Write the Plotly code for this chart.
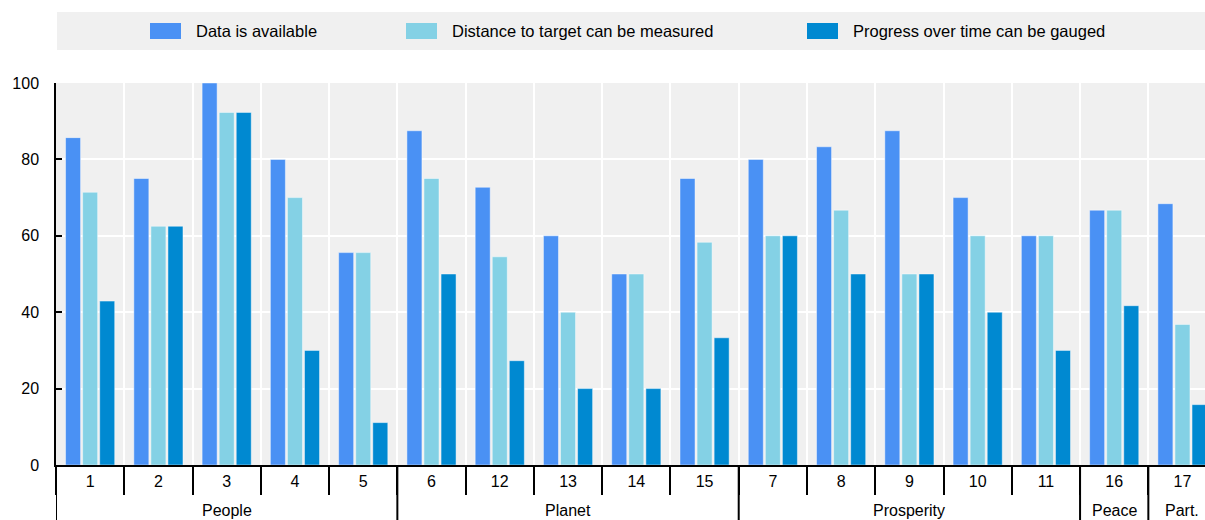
import plotly.graph_objects as go

# ---- data ----
groups = ["People"] * 5 + ["Planet"] * 5 + ["Prosperity"] * 5 + ["Peace", "Part."]
goals = ["1", "2", "3", "4", "5", "6", "12", "13", "14", "15",
         "7", "8", "9", "10", "11", "16", "17"]
data_available = [85.7, 75.0, 100.0, 80.0, 55.6, 87.5, 72.7, 60.0, 50.0, 75.0,
                  80.0, 83.3, 87.5, 70.0, 60.0, 66.7, 68.4]
distance_measured = [71.4, 62.5, 92.3, 70.0, 55.6, 75.0, 54.5, 40.0, 50.0, 58.3,
                     60.0, 66.7, 50.0, 60.0, 60.0, 66.7, 36.8]
progress_gauged = [42.9, 62.5, 92.3, 30.0, 11.1, 50.0, 27.3, 20.0, 20.0, 33.3,
                   60.0, 50.0, 50.0, 40.0, 30.0, 41.7, 15.8]
series_names = ["Data is available", "Distance to target can be measured",
                "Progress over time can be gauged"]
series_values = [data_available, distance_measured, progress_gauged]
colors = ["#4a91f4", "#84d1e5", "#0089d1"]
y_ticks = [0, 20, 40, 60, 80, 100]

W, H = 1205, 520
L, R, T, B = 56, 0, 83, 55
FONT = "Liberation Sans, Arial, sans-serif"

fig = go.Figure()
for name, vals, col in zip(series_names, series_values, colors):
    fig.add_trace(go.Bar(
        x=goals, y=vals, name=name,
        marker=dict(color=col, line=dict(color="rgba(255,255,255,0.45)", width=1)),
        showlegend=False,
    ))

pw = W - L - R
ph = H - T - B


def px_x(p):  # image pixel -> paper
    return (p - L) / pw


def px_y(p):
    return (H - B - p) / ph


shapes = [dict(type="rect", xref="paper", yref="paper",
               x0=px_x(57), x1=px_x(1205), y0=px_y(50), y1=px_y(12),
               fillcolor="#f0f0f0", line=dict(width=0), layer="below")]
annotations = []
legend_x = [150, 406, 807]
for lx, name, col in zip(legend_x, series_names, colors):
    shapes.append(dict(type="rect", xref="paper", yref="paper",
                       x0=px_x(lx), x1=px_x(lx + 31), y0=px_y(39), y1=px_y(23),
                       fillcolor=col, line=dict(width=0)))
    annotations.append(dict(xref="paper", yref="paper", x=px_x(lx + 44), y=px_y(31),
                            text=name, showarrow=False, xanchor="left", yanchor="middle",
                            font=dict(family=FONT, size=16.5, color="#000")))

# group labels and dividers from the group list
bounds = [-0.5]
starts = [0]
for i in range(1, len(groups)):
    if groups[i] != groups[i - 1]:
        bounds.append(i - 0.5)
        starts.append(i)
ends = starts[1:] + [len(groups)]
for b in bounds:
    shapes.append(dict(type="line", xref="x", yref="paper", x0=b, x1=b,
                       y0=0, y1=-B / ph, line=dict(color="#000", width=2)))
for s, e in zip(starts, ends):
    annotations.append(dict(xref="x", yref="paper", x=(s + e - 1) / 2, y=px_y(510),
                            text=groups[s], showarrow=False, xanchor="center",
                            yanchor="middle", font=dict(family=FONT, size=16, color="#000")))

fig.update_layout(
    width=W, height=H,
    margin=dict(l=L, r=R, t=T, b=B, pad=0),
    paper_bgcolor="white", plot_bgcolor="#f0f0f0",
    barmode="group", bargap=0.25, bargroupgap=0.12,
    font=dict(family=FONT, size=16, color="#000"),
    shapes=shapes, annotations=annotations,
    xaxis=dict(
        type="category", range=[-0.5, 16.33],
        showgrid=True, gridcolor="white", gridwidth=2,
        tickson="boundaries", ticks="outside", ticklen=28, tickwidth=2, tickcolor="#000",
        showline=True, linecolor="#000", linewidth=2,
        ticklabelstandoff=1,
        tickfont=dict(family=FONT, size=16, color="#000"),
    ),
    yaxis=dict(
        range=[0, 100], tickvals=y_ticks,
        showgrid=True, gridcolor="white", gridwidth=2,
        ticks="inside", ticklen=6, tickwidth=1.5, tickcolor="#000",
        showline=True, linecolor="#000", linewidth=1.5,
        zeroline=False, ticklabelstandoff=12,
        tickfont=dict(family=FONT, size=16, color="#000"),
    ),
)

fig.write_html(
    "out.html",
    config={"displayModeBar": False},
    post_script="document.body.style.margin='0';document.body.style.overflow='hidden';",
)
